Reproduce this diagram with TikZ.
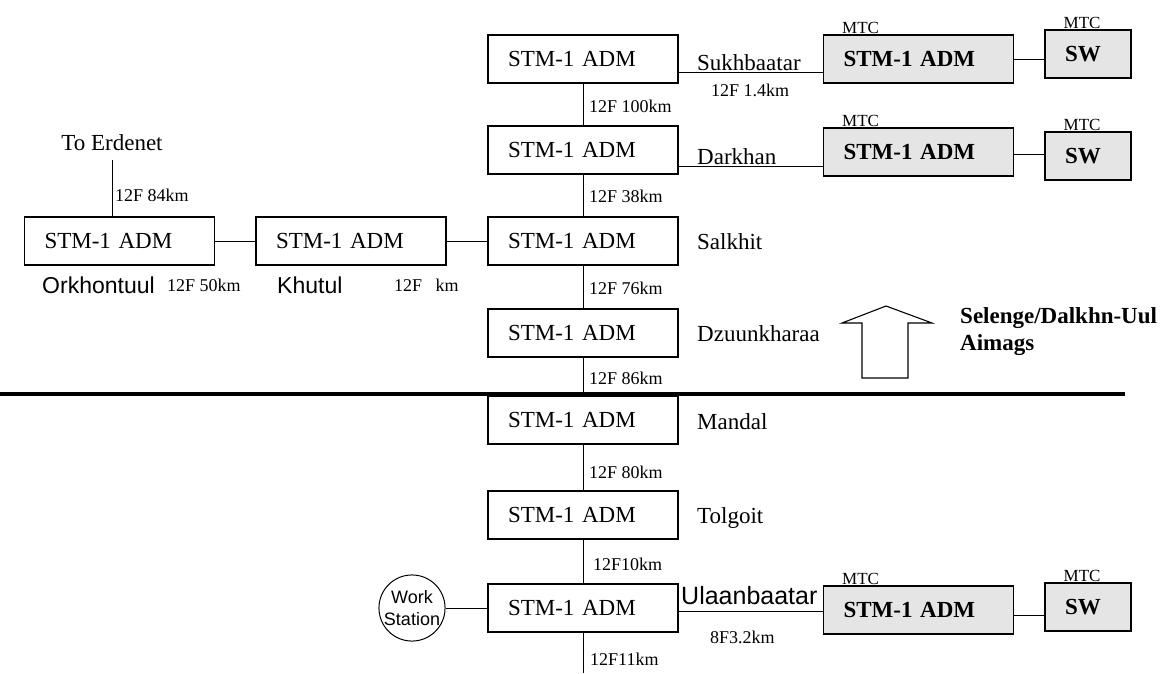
\documentclass[tikz,border=0pt]{standalone}
\usepackage{fontspec}
\setmainfont{Liberation Serif}
\newfontfamily\sansface{Liberation Sans}
\newcommand\fadm{\fontsize{23}{27}\selectfont}
\newcommand\fdist{\fontsize{18}{20}\selectfont}
\newcommand\ftag{\fontsize{17}{19}\selectfont}
\begin{document}
\begin{tikzpicture}[x=1pt,y=-1pt,
  adm/.style={draw, line width=1.1pt, minimum height=48pt, inner xsep=20pt,
    text width=150pt, align=left, font=\fadm},
  mtcbox/.style={adm, fill=black!10, font=\fadm\bfseries},
  swbox/.style={mtcbox, text width=46pt},
  place/.style={anchor=base west, inner sep=0pt, font=\fadm},
  dist/.style={anchor=west, inner sep=0pt, font=\fdist},
  tag/.style={anchor=base west, inner sep=0pt, font=\ftag},
  link/.style={line width=1pt}]
\useasboundingbox[fill=white] (0,0) rectangle (1167,673);

% main column of add-drop multiplexers
\node[adm] (a1) at (583,59) {STM-1 ADM};
\node[adm] (a2) at (583,150) {STM-1 ADM};
\node[adm] (a3) at (583,241) {STM-1 ADM};
\node[adm] (a4) at (583,333) {STM-1 ADM};
\node[adm] (a5) at (583,420) {STM-1 ADM};
\node[adm] (a6) at (583,515) {STM-1 ADM};
\node[adm] (a7) at (583,608) {STM-1 ADM};
\coordinate (aend) at (583,673);

% western branch
\node[adm] (ork) at (119.5,241) {STM-1 ADM};
\node[adm] (khu) at (351,241) {STM-1 ADM};
\node[inner sep=0pt, font=\fadm] (erd) at (112,143) {To Erdenet};

% MTC equipment
\node[mtcbox] (m1) at (918.5,59) {STM-1 ADM};
\node[swbox] (s1) at (1088,54) {SW};
\node[mtcbox] (m2) at (918.5,152) {STM-1 ADM};
\node[swbox] (s2) at (1088,156) {SW};
\node[mtcbox] (m3) at (918.5,610) {STM-1 ADM};
\node[swbox] (s3) at (1088,607) {SW};
\foreach \b in {m1,s1,m2,s2,m3,s3}
  \node[tag] at ([xshift=19pt,yshift=1pt]\b.north west) {MTC};

% work station
\node[draw, circle, line width=1pt, minimum size=66pt, inner sep=0pt,
  align=center, font=\sansface\fontsize{18}{22}\selectfont] (ws) at (412,608) {Work\\Station};

% trunk links
\draw[link] (a1) -- (a2);
\draw[link] (a2) -- (a3);
\draw[link] (a3) -- (a4);
\draw[link] (a4) -- (a5);
\draw[link] (a5) -- (a6);
\draw[link] (a6) -- (a7);
\draw[link] (a7) -- (aend);
\draw[link] (ork.east) -- (khu.west);
\draw[link] (khu.east) -- (a3.west);
\draw[link] (erd.south) ++(0,9) -- (erd.south |- ork.north);
\draw[link] ([yshift=-13pt]a1.east) -- ([yshift=-13pt]a1.east -| m1.west);
\draw[link] ([yshift=-16pt]a2.east) -- ([yshift=-16pt]a2.east -| m2.west);
\draw[link] ([yshift=-3pt]a7.east) -- ([yshift=-3pt]a7.east -| m3.west);
\draw[link] (m1.east) -- (m1.east -| s1.west);
\draw[link] ([yshift=-2pt]m2.east) -- ([yshift=-2pt]m2.east -| s2.west);
\draw[link] ([yshift=-5pt]m3.east) -- ([yshift=-5pt]m3.east -| s3.west);
\draw[link] (ws.east) -- (ws.east -| a7.west);

% site names
\node[place] at (697,70) {Sukhbaatar};
\node[place] at (697,164) {Darkhan};
\node[place] at (697,249) {Salkhit};
\node[place] at (697,341) {Dzuunkharaa};
\node[place] at (697,429) {Mandal};
\node[place] at (697,523) {Tolgoit};
\node[place, font=\sansface\fontsize{25}{29}\selectfont] at (681,604) {Ulaanbaatar};
\node[place, font=\sansface\fontsize{23}{27}\selectfont] at (42,293) {Orkhontuul};
\node[place, font=\sansface\fontsize{23}{27}\selectfont] at (277,293) {Khutul};

% fibre counts and distances
\node[dist] at (589,106) {12F 100km};
\node[dist] at (589,196) {12F 38km};
\node[dist] at (589,288) {12F 76km};
\node[dist] at (589,378) {12F 86km};
\node[dist] at (589,472) {12F 80km};
\node[dist] at (593,564) {12F10km};
\node[dist] at (590,659) {12F11km};
\node[dist] at (711,90) {12F 1.4km};
\node[dist] at (710,637) {8F3.2km};
\node[dist] at (115,195) {12F 84km};
\node[dist] at (167,285) {12F 50km};
\node[dist] at (394,285) {12F\ \ \ km};

% regional boundary
\coordinate (bl) at (0,394);
\coordinate (br) at (1125,394);
\draw[line width=3.5pt] (bl) -- (br);

% northbound arrow and region name
\draw[line width=1.1pt, line join=miter]
  (862,378) -- (862,323) -- (842,323) -- (886,306) -- (932,323)
  -- (908,323) -- (908,378) -- cycle;
\node[place, font=\fadm\bfseries] at (960,323) {Selenge/Dalkhn-Uul};
\node[place, font=\fadm\bfseries] at (960,350) {Aimags};
\end{tikzpicture}
\end{document}
